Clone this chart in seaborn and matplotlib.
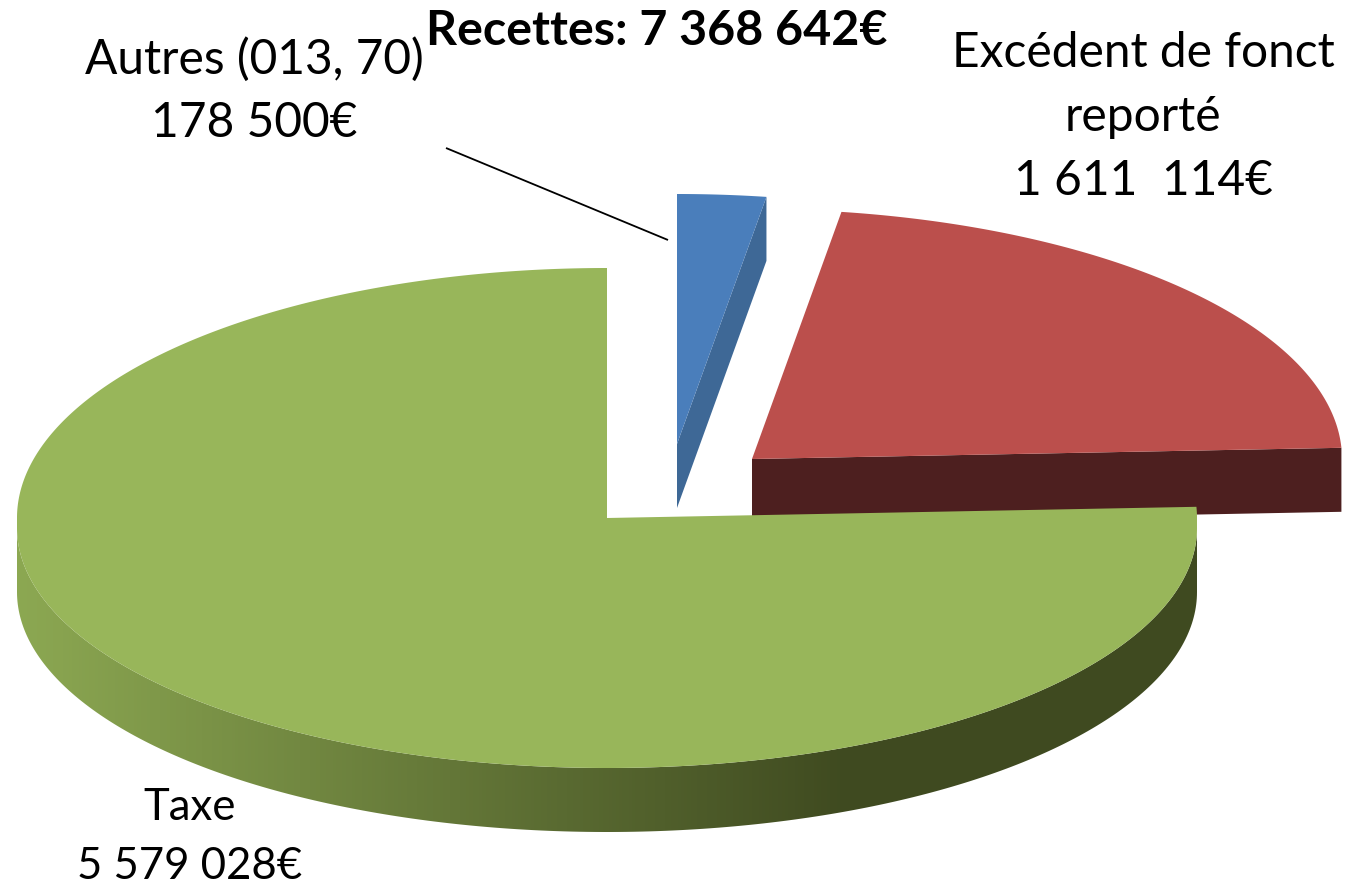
"""Recettes - exploded 3D-look pie, drawn from the three amounts."""

import matplotlib.pyplot as plt
import numpy as np
import seaborn as sns
from matplotlib.patches import Polygon

# data
labels = ["Autres (013, 70)", "Excédent de fonct\nreporté", "Taxe"]
amounts = [178500, 1611114, 5579028]
amount_labels = ["178 500€", "1 611  114€", "5 579 028€"]
title = "Recettes: 7 368 642€"

# layout, in image pixels
RX = 590
DEPTH = 64
apexes = [(677, 444), (752, 459), (607, 518)]
top_colors = ["#4A7EBB", "#BB4F4C", "#98B65A"]
side_colors = ["#3E6896", "#4D1F1F", None]
label_pos = [(254, 91), (1143, 117), (190, 837)]
label_sizes = [34.5, 34.5, 31.5]

sns.set_theme(style="white")
plt.rcParams["font.family"] = ["Lato", "DejaVu Sans"]


def rim_point(apex, theta):
    """Point of the tilted outline; theta is clockwise from 12 o'clock, degrees."""
    t = np.radians(theta)
    if np.cos(t) >= 0:
        ry, off = 250, 0
    else:
        ry, off = 240, 10
    return apex[0] + RX * np.sin(t), apex[1] + off - ry * np.cos(t)


def arc(apex, start, stop, n=240):
    angles = np.linspace(start, stop, n)
    return [rim_point(apex, a) for a in angles]


fig = plt.figure(figsize=(13.55, 8.93), dpi=100)
ax = fig.add_axes([0, 0, 1, 1])

edges = np.concatenate([[0], np.cumsum(amounts) / np.sum(amounts) * 360])

# blue and red: flat side under the leading radial edge
for i in [0, 1]:
    apex = apexes[i]
    corner = rim_point(apex, edges[i + 1])
    side = [apex, corner, (corner[0], corner[1] + DEPTH), (apex[0], apex[1] + DEPTH)]
    ax.add_patch(Polygon(side, closed=True, fc=side_colors[i], ec="none"))
    top = [apex] + arc(apex, edges[i], edges[i + 1])
    ax.add_patch(Polygon(top, closed=True, fc=top_colors[i], ec="none"))

# green: curved rim with a left-to-right shading, then the top
apex = apexes[2]
upper = arc(apex, 90.01, 269.99)
lower = [(x, y + DEPTH) for x, y in upper[::-1]]
rim = Polygon(upper + lower, closed=True, fc="none", ec="none")
ax.add_patch(rim)
shade = sns.blend_palette(["#8CA852", "#3F4A20"], as_cmap=True)
ramp = np.linspace(0, 1, 256).reshape(1, -1)
img = ax.imshow(ramp, cmap=shade, aspect="auto", extent=(17, 850, 900, 400))
img.set_clip_path(rim)
# beyond the ramp the rim stays dark
img2 = ax.imshow([[1]], cmap=shade, vmin=0, vmax=1, aspect="auto",
                 extent=(850, 1200, 900, 400))
img2.set_clip_path(rim)

top = [apex] + arc(apex, edges[2], 360, n=500)
ax.add_patch(Polygon(top, closed=True, fc=top_colors[2], ec="none"))

# leader line for the small slice
ax.plot([446, 668], [148, 240], color="black", lw=1.3, solid_capstyle="butt")

for lab, amt, (x, y), size in zip(labels, amount_labels, label_pos, label_sizes):
    ax.text(x, y, f"{lab}\n{amt}", ha="center", va="center", fontsize=size,
            color="black", linespacing=1.55)
ax.text(657, 31, title, ha="center", va="center", fontsize=34.8,
        fontweight="bold", color="black")

ax.set_xlim(0, 1355)
ax.set_ylim(893, 0)
ax.axis("off")

fig.savefig("out.png", dpi=100)
